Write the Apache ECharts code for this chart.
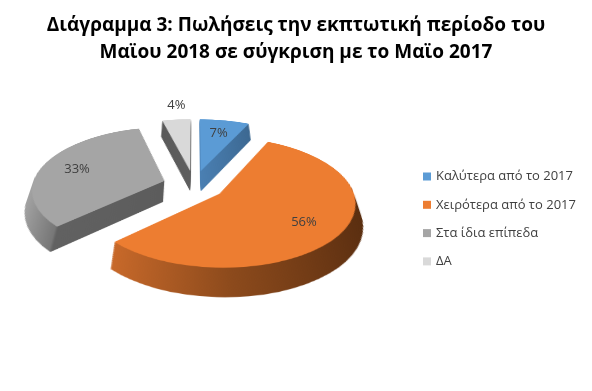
<!DOCTYPE html>
<html><head><meta charset="utf-8">
<script src="https://cdn.jsdelivr.net/npm/echarts@6/dist/echarts.min.js"></script>
<style>
html,body{margin:0;padding:0;background:#fff;width:592px;height:391px;overflow:hidden;}
body{position:relative;}
#pie{position:absolute;left:-6px;top:-15px;width:400px;height:420px;transform-origin:200px 200px;transform:perspective(900px) rotateX(62deg);}
#main{position:absolute;left:0;top:0;width:592px;height:391px;}
</style></head><body>
<div id="pie"></div><div id="main"></div>
<script>
// ---- data ----
const categories = ['Καλύτερα από το 2017', 'Χειρότερα από το 2017', 'Στα ίδια επίπεδα', 'ΔΑ'];
const values = [7, 56, 33, 4];
const valueLabels = ['7%', '56%', '33%', '4%'];
const titleLines = ['Διάγραμμα 3: Πωλήσεις την εκπτωτική περίοδο του', 'Μαϊου 2018 σε σύγκριση με το Μαϊο 2017'];

// ---- style ----
const FONT = '"Open Sans", "Noto Sans", sans-serif';
const topColors = ['#5B9BD5', '#ED7D31', '#A5A5A5', '#D9D9D9'];
function hgrad(stops) {
  return { type: 'linear', x: 0, y: 0, x2: 1, y2: 0, colorStops: stops.map(s => ({ offset: s[0], color: s[1] })) };
}
const wallColors = [
  hgrad([[0, '#4A7FB2'], [1, '#3C6891']]),
  hgrad([[0, '#C8692A'], [0.45, '#8C4A1C'], [1, '#5A2E10']]),
  hgrad([[0, '#A2A2A2'], [0.26, '#777777'], [0.28, '#616161'], [1, '#5C5C5C']]),
  hgrad([[0, '#5A5A5A'], [1, '#5E5E5E']])
];
const R = 132, EXPLODE = 31, LAYERS = 29, STEP = 1.5, CX = 200, CY = 200;
const TILT = 62, PERSP = 900, ORIGIN_X = -6 + CX, ORIGIN_Y = -15 + CY;

// ---- pie (tilted) ----
const pieChart = echarts.init(document.getElementById('pie'), null, { renderer: 'canvas' });
function pieSeries(cy, colors) {
  return {
    type: 'pie', center: [CX, cy], radius: [0, R], startAngle: 90, clockwise: true,
    selectedMode: 'multiple', selectedOffset: EXPLODE, silent: true, animation: false,
    label: { show: false }, labelLine: { show: false }, emphasis: { disabled: true },
    itemStyle: { borderWidth: 0 }, select: { itemStyle: { borderWidth: 0 } },
    data: categories.map((n, i) => ({ name: n, value: values[i], selected: true, itemStyle: { color: colors[i] }, select: { itemStyle: { color: colors[i], borderWidth: 0 } } }))
  };
}
const pSeries = [];
for (let k = LAYERS; k >= 1; k--) pSeries.push(pieSeries(CY + k * STEP, wallColors));
pSeries.push(pieSeries(CY, topColors));
pieChart.setOption({ animation: false, series: pSeries });

// ---- labels positions from data ----
function project(u, v) {
  const a = TILT * Math.PI / 180, s = Math.sin(a), c = Math.cos(a);
  const f = PERSP / (PERSP - v * s);
  return [ORIGIN_X + u * f, ORIGIN_Y + v * c * f];
}
const total = values.reduce((a, b) => a + b, 0);
let acc = 0;
const texts = [];
values.forEach((v, i) => {
  const mid = (acc + v / 2) / total * 2 * Math.PI;
  acc += v;
  const dx = Math.sin(mid), dy = -Math.cos(mid);
  const outside = v / total < 0.05;
  const t = outside ? EXPLODE + R : EXPLODE + 0.72 * R;
  const p = project(dx * t, dy * t);
  texts.push({
    type: 'text', x: p[0], y: outside ? p[1] - 8 : p[1], silent: true,
    style: { text: valueLabels[i], fill: '#404040', font: '13px ' + FONT, textAlign: 'center', textVerticalAlign: outside ? 'bottom' : 'middle', align: 'center', verticalAlign: outside ? 'bottom' : 'middle' }
  });
});

// ---- main (title, legend, labels) ----
const mainChart = echarts.init(document.getElementById('main'), null, { renderer: 'canvas' });
mainChart.setOption({
  animation: false,
  backgroundColor: 'transparent',
  title: {
    text: titleLines.join('\n'), left: 'center', top: 7,
    textStyle: { fontFamily: FONT, fontSize: 19, fontWeight: 'bold', color: '#000', lineHeight: 27 }
  },
  legend: {
    orient: 'vertical', left: 418, top: 164, itemWidth: 8, itemHeight: 8, itemGap: 13.3, icon: 'rect',
    selectedMode: false, data: categories,
    textStyle: { fontFamily: FONT, fontSize: 13, color: '#404040', lineHeight: 15 }
  },
  graphic: texts,
  series: [{
    type: 'pie', radius: [0, 0], center: [-100, -100], silent: true, label: { show: false }, labelLine: { show: false },
    data: categories.map((n, i) => ({ name: n, value: values[i], itemStyle: { color: topColors[i] } }))
  }]
});
</script>
</body></html>
